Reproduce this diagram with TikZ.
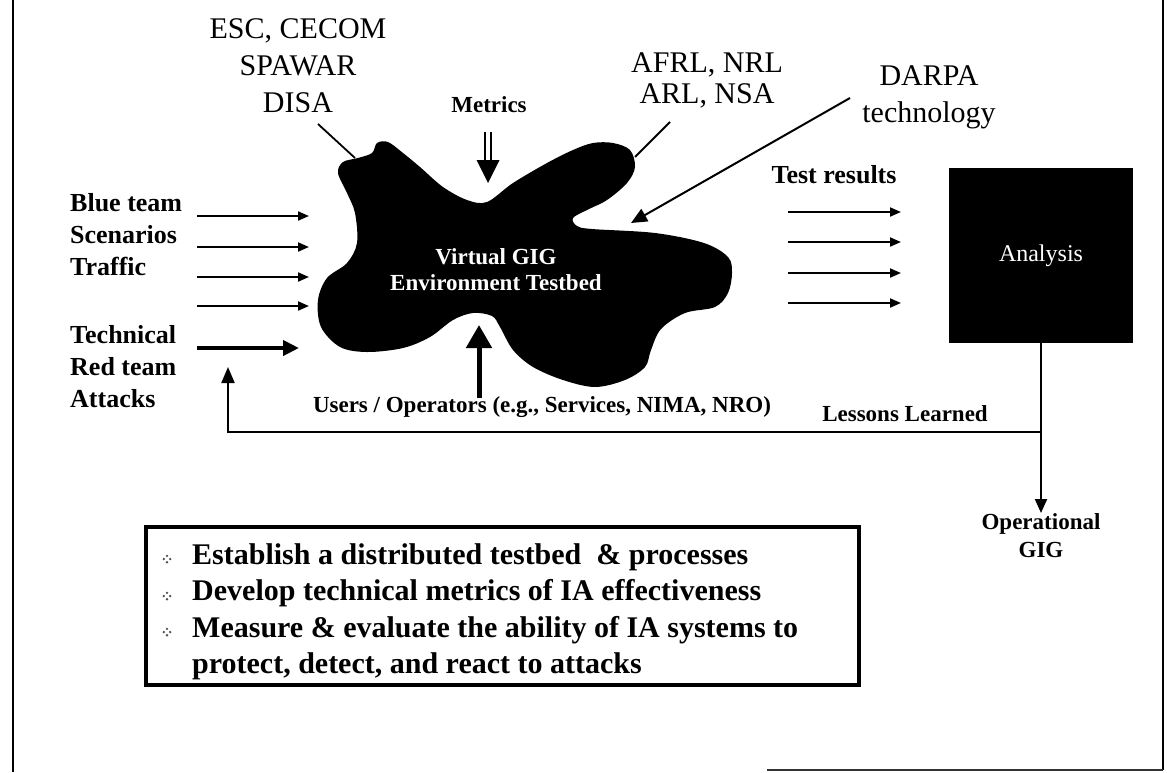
\documentclass[tikz,border=0pt]{standalone}
\usepackage{fontspec}
\setmainfont{Liberation Serif}
\usetikzlibrary{arrows.meta}
\newcommand\myfs[2]{\fontsize{#1}{#2}\selectfont}
\begin{document}
\begin{tikzpicture}[x=1pt,y=-1pt,
  lbl/.style={inner sep=0pt, align=center},
  thinarrow/.style={line width=2pt, -{Triangle[length=11pt,width=9pt]}},
  thickarrow/.style={line width=4pt, -{Triangle[length=16pt,width=15pt]}},
  connector/.style={line width=1.8pt},
  feedback/.style={line width=2pt},
]
\useasboundingbox (0,0) rectangle (1167,772);

% frame
\draw[line width=2.5pt] (13,0) -- (13,772);
\draw[line width=2pt] (1163,0) -- (1163,770);
\draw[line width=2pt, black!80] (767,770) -- (1163,770);

% blob
\fill plot[smooth cycle, tension=0.55] coordinates {
(377,143) (388,142) (403,153) (420,167) (443,187) (467,200) (487,202)
(513,183) (547,163) (573,150) (593,143) (613,143) (630,150) (635,167)
(627,183) (607,200) (587,210) (573,218) (577,226) (592,229) (655,233)
(704,243) (728,257) (732,273) (728,293) (715,307) (685,313) (661,329)
(651,350) (645,367) (625,380) (595,387) (563,380) (533,367) (513,350)
(500,327) (492,316) (473,313) (453,320) (430,337) (403,348) (367,352)
(340,347) (321,327) (318,300) (327,278) (347,263) (357,243) (355,213)
(347,193) (338,173) (343,162) (358,158) (372,153)};
\node[lbl, text=white, font=\myfs{23}{26}\bfseries] (vgig) at (496,270)
  {Virtual GIG\\Environment Testbed};

% top labels
\node[lbl, anchor=north, font=\myfs{30}{37}] (esc) at (298,18)
  {ESC, CECOM\\SPAWAR\\DISA};
\node[lbl, anchor=north, font=\myfs{30}{31}] (afrl) at (707,52)
  {AFRL, NRL\\ARL, NSA};
\node[lbl, anchor=north, font=\myfs{30}{37}] (darpa) at (929,65)
  {DARPA\\technology};
\node[lbl, font=\myfs{23}{26}\bfseries] (metrics) at (489,105) {Metrics};

\coordinate (escA) at (318,124);  \coordinate (escB) at (355,158);
\coordinate (afrlA) at (670,122); \coordinate (afrlB) at (635,157);
\coordinate (darpaA) at (850,98); \coordinate (darpaB) at (631,223);
\draw[connector] (escA) -- (escB);
\draw[connector] (afrlA) -- (afrlB);
\draw[line width=2pt, -{Triangle[length=16pt,width=14pt]}] (darpaA) -- (darpaB);

% metrics arrow (double shaft)
\coordinate (mA) at (488,132); \coordinate (mB) at (488,161); \coordinate (mtip) at (488,183);
\draw[line width=1.3pt, double distance=4.5pt] (mA) -- (mB);
\fill (476.5,160) -- (499.5,160) -- (mtip) -- cycle;

% left labels and arrows
\node[inner sep=0pt, align=left, anchor=north west, font=\myfs{26}{32}\bfseries] (blue) at (70,193)
  {Blue team\\Scenarios\\Traffic};
\node[inner sep=0pt, align=left, anchor=north west, font=\myfs{26}{32}\bfseries] (red) at (70,325)
  {Technical\\Red team\\Attacks};
\foreach \i/\y in {1/216,2/247,3/277,4/306} {
  \coordinate (lin\i) at (197,\y); \coordinate (lout\i) at (309,\y);
  \draw[thinarrow] (lin\i) -- (lout\i);
}
\coordinate (rin) at (197,348); \coordinate (rout) at (299,348);
\draw[thickarrow] (rin) -- (rout);

% users arrow
\node[lbl, font=\myfs{23}{26}\bfseries] (users) at (542,407)
  {Users / Operators (e.g., Services, NIMA, NRO)};
\coordinate (uA) at (479,398); \coordinate (uB) at (479,325);
\draw[line width=5pt, -{Triangle[length=23pt,width=25pt]}] (uA) -- (uB);

% test results
\node[lbl, font=\myfs{26}{30}\bfseries] (testres) at (834,175) {Test results};
\foreach \i/\y in {1/212,2/242,3/273,4/303} {
  \coordinate (tin\i) at (788,\y); \coordinate (tout\i) at (901,\y);
  \draw[thinarrow] (tin\i) -- (tout\i);
}

% analysis
\node[fill=black, minimum width=184pt, minimum height=175pt, inner sep=0pt,
      text=white, font=\myfs{24}{28}] (ana) at (1041,255.5) {Analysis};

% feedback / operational
\node[lbl, font=\myfs{23}{26}\bfseries] (lessons) at (905,414) {Lessons Learned};
\node[lbl, anchor=north, font=\myfs{23}{28}\bfseries] (opgig) at (1041,513)
  {Operational\\GIG};
\coordinate (fj) at (1041,432); \coordinate (fl) at (228,432); \coordinate (ftip) at (228,367);
\draw[feedback, -{Triangle[length=14pt,width=12pt]}] (ana.south) -- (opgig.north);
\draw[feedback, -{Triangle[length=16pt,width=13pt]}] (fj) -- (fl) -- (ftip);

% goals box
\node[draw, line width=4pt, minimum width=713pt, minimum height=158pt, inner sep=0pt] (goals) at (502.5,606) {};
\node[inner sep=0pt, align=left, anchor=north west, font=\myfs{30}{36.5}\bfseries] (goalstext) at (192,543)
  {Establish a distributed testbed\ \ \& processes\\
   Develop technical metrics of IA effectiveness\\
   Measure \& evaluate the ability of IA systems to\\
   protect, detect, and react to attacks};
\foreach \y in {559,596,632} {
  \foreach \dx/\dy in {0/-3.2,0/3.2,-3.2/0,3.2/0}
    \fill[black!70] ({167+\dx},{\y+\dy}) circle (1.3pt);
}
\end{tikzpicture}
\end{document}
